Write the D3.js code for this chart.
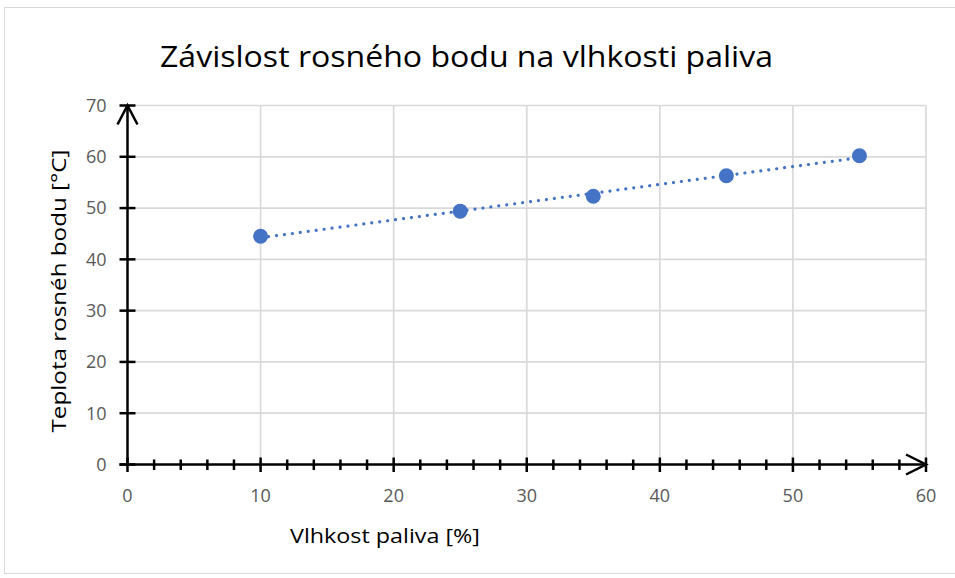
<!DOCTYPE html>
<html>
<head>
<meta charset="utf-8">
<script src="https://cdn.jsdelivr.net/npm/d3@7"></script>
<style>
  html, body { margin: 0; padding: 0; background: #fff; }
  svg { display: block; font-family: "Open Sans", "Noto Sans", sans-serif; }
</style>
</head>
<body>
<svg id="chart" width="955" height="578"></svg>
<script>
// ---- data ----
const title = "Závislost rosného bodu na vlhkosti paliva";
const xLabel = "Vlhkost paliva [%]";
const yLabel = "Teplota rosnéh bodu [°C]";
const moisture = [10, 25, 35, 45, 55];
const dewPoint = [44.5, 49.4, 52.3, 56.3, 60.2];
const xTicks = [0, 10, 20, 30, 40, 50, 60];
const xMinorTicks = d3.range(0, 60, 2);
const yTicks = [0, 10, 20, 30, 40, 50, 60, 70];

const W = 955, H = 578;
const margin = { left: 127.5, right: W - 926, top: 105.5, bottom: H - 464.5 };
const svg = d3.select("#chart");

// border
svg.append("rect").attr("x", 4.5).attr("y", 7.5).attr("width", 960).attr("height", 566)
  .attr("fill", "none").attr("stroke", "#d9d9d9").attr("stroke-width", 1);

const x = d3.scaleLinear().domain([0, 60]).range([margin.left, W - margin.right]);
const y = d3.scaleLinear().domain([0, 70]).range([H - margin.bottom, margin.top]);

// gridlines
const grid = svg.append("g").attr("stroke", "#d9d9d9").attr("stroke-width", 1.7);
grid.selectAll("line.h").data(yTicks.filter(d => d > 0)).join("line")
  .attr("x1", x(0)).attr("x2", x(60)).attr("y1", d => y(d)).attr("y2", d => y(d));
grid.selectAll("line.v").data(xTicks.filter(d => d > 0)).join("line")
  .attr("y1", y(0)).attr("y2", y(70)).attr("x1", d => x(d)).attr("x2", d => x(d));

// x axis
const xAxis = svg.append("g").attr("transform", `translate(0,${y(0)})`);
xAxis.append("line").attr("x1", x(0) - 8).attr("x2", x(60)).attr("stroke", "#000").attr("stroke-width", 2.5);
xAxis.selectAll("line.minor").data(xMinorTicks.filter(d => d % 10 !== 0)).join("line")
  .attr("x1", d => x(d)).attr("x2", d => x(d)).attr("y1", -5).attr("y2", 5.5)
  .attr("stroke", "#000").attr("stroke-width", 2.5);
xAxis.selectAll("line.major").data(xTicks).join("line")
  .attr("x1", d => x(d)).attr("x2", d => x(d)).attr("y1", -7).attr("y2", 7.5)
  .attr("stroke", "#000").attr("stroke-width", 2.5);
xAxis.append("path")
  .attr("d", `M${x(60) - 20},-10 L${x(60)},0 L${x(60) - 20},10`)
  .attr("fill", "none").attr("stroke", "#000").attr("stroke-width", 2.5);
xAxis.selectAll("text").data(xTicks).join("text")
  .attr("x", d => x(d)).attr("y", 37).attr("text-anchor", "middle")
  .attr("fill", "#595959").attr("font-size", 18).text(d => d);

// y axis
const yAxis = svg.append("g").attr("transform", `translate(${x(0)},0)`);
yAxis.append("line").attr("y1", y(0)).attr("y2", y(70)).attr("stroke", "#000").attr("stroke-width", 2.5);
yAxis.selectAll("line.major").data(yTicks).join("line")
  .attr("y1", d => y(d)).attr("y2", d => y(d)).attr("x1", -8).attr("x2", 8)
  .attr("stroke", "#000").attr("stroke-width", 2.5);
yAxis.append("path")
  .attr("d", `M-10,${y(70) + 19} L0,${y(70)} L10,${y(70) + 19}`)
  .attr("fill", "none").attr("stroke", "#000").attr("stroke-width", 2.5);
yAxis.selectAll("text").data(yTicks).join("text")
  .attr("x", -21).attr("y", d => y(d)).attr("dy", "0.35em").attr("text-anchor", "end")
  .attr("fill", "#595959").attr("font-size", 18).text(d => d);

// trendline (least squares from data)
const n = moisture.length;
const mx = d3.mean(moisture), my = d3.mean(dewPoint);
let sxy = 0, sxx = 0;
for (let i = 0; i < n; i++) { sxy += (moisture[i] - mx) * (dewPoint[i] - my); sxx += (moisture[i] - mx) ** 2; }
const slope = sxy / sxx, intercept = my - slope * mx;
const x0 = d3.min(moisture), x1 = d3.max(moisture);
svg.append("line")
  .attr("x1", x(x0)).attr("y1", y(intercept + slope * x0))
  .attr("x2", x(x1)).attr("y2", y(intercept + slope * x1))
  .attr("stroke", "#4472C4").attr("stroke-width", 3.2)
  .attr("stroke-dasharray", "0.01 8").attr("stroke-linecap", "round");

// points
svg.append("g").selectAll("circle").data(moisture.map((m, i) => [m, dewPoint[i]])).join("circle")
  .attr("cx", d => x(d[0])).attr("cy", d => y(d[1])).attr("r", 7.5).attr("fill", "#4472C4");

// title and labels
svg.append("text").attr("x", 466.5).attr("y", 67).attr("text-anchor", "middle")
  .attr("font-size", 30).attr("fill", "#000")
  .attr("textLength", 613).attr("lengthAdjust", "spacingAndGlyphs").text(title);
svg.append("text").attr("x", 385).attr("y", 543).attr("text-anchor", "middle")
  .attr("font-size", 20).attr("fill", "#000")
  .attr("textLength", 190).attr("lengthAdjust", "spacingAndGlyphs").text(xLabel);
svg.append("text").attr("transform", "translate(66,291) rotate(-90)").attr("text-anchor", "middle")
  .attr("font-size", 20).attr("fill", "#000")
  .attr("textLength", 283).attr("lengthAdjust", "spacingAndGlyphs").text(yLabel);
</script>
</body>
</html>
